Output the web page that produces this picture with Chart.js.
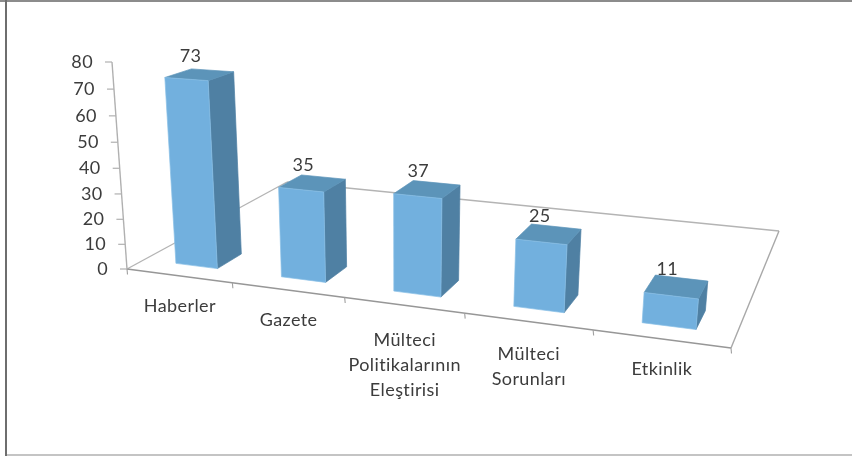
<!DOCTYPE html>
<html>
<head>
<meta charset="utf-8">
<style>html,body{margin:0;padding:0;background:#fff}canvas{display:block}</style>
<script src="https://cdn.jsdelivr.net/npm/chart.js@4"></script>
</head>
<body>
<canvas id="c" width="852" height="456"></canvas>
<script>
const categories = [['Haberler'], ['Gazete'], ['Mülteci', 'Politikalarının', 'Eleştirisi'], ['Mülteci', 'Sorunları'], ['Etkinlik']];
const values = [73, 35, 37, 25, 11];
const axisMax = 80;
const axisStep = 10;

const FONT = '18px Lato, "Open Sans", sans-serif';
const TEXT = '#3c3c3c';
const FRONT = '#72b0de', SIDE = '#4f80a3', TOP = '#5c94b9', EDGE = '#8ac0e6';

// Camera: floor corners (front-left, front-right, back-right, back-left) plus the vertical axis.
const FL = [127, 269], FR = [731, 348], BR = [779, 231], BL = [287, 182];
const k = -0.052, AXIS_TOP = [112, 62];
const T_FRONT = 0.09, T_BACK = 0.23, BAR_NUDGE = 1;

const dx1 = FR[0] - BR[0], dx2 = BL[0] - BR[0], sx = FL[0] - FR[0] + BR[0] - BL[0];
const dy1 = FR[1] - BR[1], dy2 = BL[1] - BR[1], sy = FL[1] - FR[1] + BR[1] - BL[1];
const den = dx1 * dy2 - dx2 * dy1;
const g = (sx * dy2 - dx2 * sy) / den, h = (dx1 * sy - sx * dy1) / den;
const Ax = FR[0] - FL[0] + g * FR[0], Bx = BL[0] - FL[0] + h * BL[0], Dx = AXIS_TOP[0] * (1 + k) - FL[0];
const Ay = FR[1] - FL[1] + g * FR[1], By = BL[1] - FL[1] + h * BL[1], Dy = AXIS_TOP[1] * (1 + k) - FL[1];
function project(s, t, v) {
  const w = 1 + g * s + h * t + k * v;
  return [(FL[0] + Ax * s + Bx * t + Dx * v) / w, (FL[1] + Ay * s + By * t + Dy * v) / w];
}
function poly(ctx, pts, fill, edge) {
  ctx.beginPath();
  pts.forEach((p, i) => i ? ctx.lineTo(p[0], p[1]) : ctx.moveTo(p[0], p[1]));
  ctx.closePath();
  ctx.fillStyle = fill;
  ctx.fill();
  ctx.lineWidth = 0.7;
  ctx.strokeStyle = edge || fill;
  ctx.stroke();
}
function line(ctx, a, b, color, width) {
  ctx.beginPath();
  ctx.moveTo(a[0], a[1]);
  ctx.lineTo(b[0], b[1]);
  ctx.strokeStyle = color;
  ctx.lineWidth = width;
  ctx.stroke();
}

const scene3d = {
  id: 'scene3d',
  beforeDatasetsDraw(chart) {
    const ctx = chart.ctx, area = chart.chartArea, xs = chart.scales.x, ys = chart.scales.y;
    const S = px => (px - area.left) / area.width;
    const V = py => (area.bottom - py) / area.height;
    ctx.save();

    // picture frame
    ctx.fillStyle = '#8c8c8c'; ctx.fillRect(0, 0, 852, 2);
    ctx.fillStyle = '#c4c4c4'; ctx.fillRect(5, 454, 847, 2);
    ctx.fillStyle = '#6e6e6e'; ctx.fillRect(5, 0, 2, 456);

    // floor outline and value axis
    line(ctx, project(0, 0, 0), project(0, 1, 0), '#b4b4b4', 1.4);
    line(ctx, project(0, 1, 0), project(1, 1, 0), '#b4b4b4', 1.4);
    line(ctx, project(1, 1, 0), project(1, 0, 0), '#a8a8a8', 1.4);
    line(ctx, project(0, 0, 0), project(1, 0, 0), '#979797', 1.4);
    line(ctx, project(0, 0, 0), project(0, 0, 1), '#b0b0b0', 1.4);

    // value ticks and labels, from the y scale
    ctx.font = FONT;
    ctx.letterSpacing = '0.4px';
    ctx.textBaseline = 'middle';
    ctx.textAlign = 'right';
    ys.ticks.forEach(tick => {
      const p = project(0, 0, V(ys.getPixelForValue(tick.value)));
      line(ctx, p, [p[0] - 7, p[1]], '#b0b0b0', 1.2);
      ctx.fillStyle = TEXT;
      ctx.fillText(String(tick.value), p[0] - 19, p[1]);
    });

    // category ticks and labels, from the x scale
    const step = xs.width / xs.ticks.length;
    const boundary = i => S(xs.getPixelForTick(i) - step / 2);
    for (let i = 0; i <= xs.ticks.length; i++) {
      const s = i < xs.ticks.length ? boundary(i) : 1;
      const p = project(s, 0, 0);
      line(ctx, p, [p[0] + 0.5, p[1] + 5.5], '#a0a0a0', 1.1);
    }
    ctx.textAlign = 'center';
    xs.getLabels().forEach((lab, i) => {
      const p = project(S(xs.getPixelForTick(i)), 0, 0);
      const lines = [].concat(lab);
      lines.forEach((txt, j) => {
        ctx.fillStyle = TEXT;
        ctx.fillText(txt, p[0] + 1, p[1] + 30.5 + (lines.length - 1) * 2.2 + j * 25.3);
      });
    });

    // bars, from the bar elements laid out by the controller
    const meta = chart.getDatasetMeta(0), ds = chart.data.datasets[0];
    meta.data.forEach((bar, i) => {
      const s0 = S(bar.x - bar.width / 2), s1 = S(bar.x + bar.width / 2);
      const v = V(bar.y), v0 = V(bar.base);
      const f = (s, t, vv) => { const p = project(s, t, vv); return [p[0] + BAR_NUDGE, p[1]]; };
      poly(ctx, [f(s1, T_FRONT, v0), f(s1, T_BACK, v0), f(s1, T_BACK, v), f(s1, T_FRONT, v)], SIDE);
      poly(ctx, [f(s0, T_FRONT, v), f(s1, T_FRONT, v), f(s1, T_BACK, v), f(s0, T_BACK, v)], TOP);
      poly(ctx, [f(s0, T_FRONT, v0), f(s1, T_FRONT, v0), f(s1, T_FRONT, v), f(s0, T_FRONT, v)], ds.backgroundColor, EDGE);
      const c = f((s0 + s1) / 2, (T_FRONT + T_BACK) / 2, v);
      ctx.fillStyle = TEXT;
      ctx.fillText(String(ds.data[i]), c[0] - 9, c[1] - 18);
    });
    ctx.restore();
    return false;
  }
};

new Chart(document.getElementById('c'), {
  type: 'bar',
  data: {
    labels: categories,
    datasets: [{ data: values, backgroundColor: FRONT, categoryPercentage: 1, barPercentage: 0.4 }]
  },
  options: {
    responsive: false,
    animation: false,
    events: [],
    plugins: { legend: { display: false }, tooltip: { enabled: false }, title: { display: false } },
    layout: { padding: 0 },
    scales: {
      x: { display: false },
      y: { display: false, min: 0, max: axisMax, ticks: { stepSize: axisStep } }
    }
  },
  plugins: [scene3d]
});
</script>
</body>
</html>
